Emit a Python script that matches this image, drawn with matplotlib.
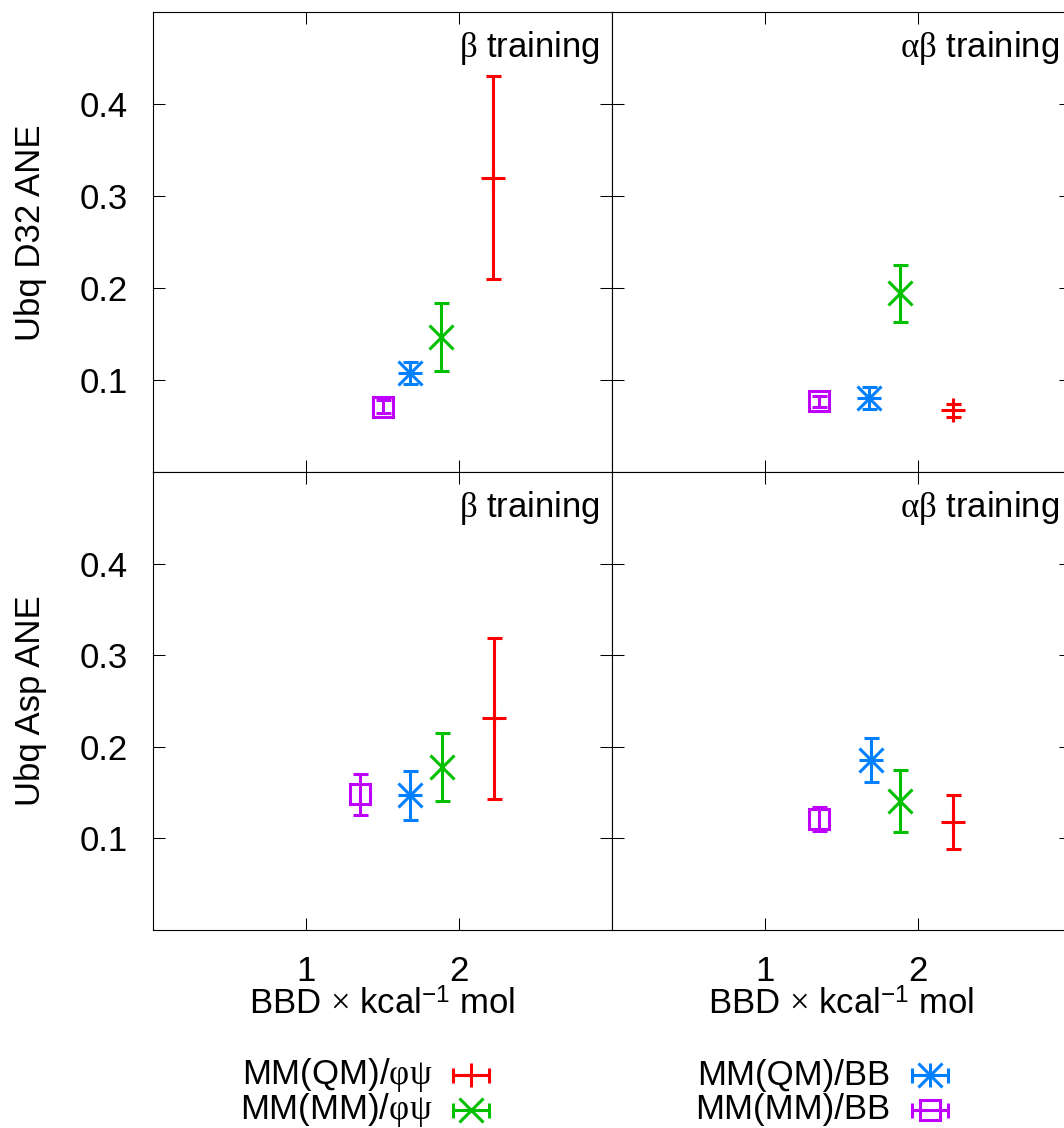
import matplotlib
matplotlib.use('Agg')
import matplotlib.pyplot as plt

plt.rcParams['font.family'] = ['Liberation Sans', 'DejaVu Sans']
plt.rcParams['mathtext.fontset'] = 'custom'
plt.rcParams['mathtext.rm'] = 'Liberation Serif'
plt.rcParams['mathtext.sf'] = 'Liberation Sans'
plt.rcParams['mathtext.it'] = 'Liberation Serif:italic'
plt.rcParams['mathtext.bf'] = 'Liberation Serif:bold'

# series: MM(QM)/phipsi, MM(MM)/phipsi, MM(QM)/BB, MM(MM)/BB
labels = [r'MM(QM)/$\mathrm{φψ}$', r'MM(MM)/$\mathrm{φψ}$', 'MM(QM)/BB', 'MM(MM)/BB']
colors = ['#ff0000', '#00c000', '#0080ff', '#c000ff']

# Ubq D32, beta training
d32_beta_x = [2.22, 1.88, 1.68, 1.50]
d32_beta_y = [0.320, 0.147, 0.108, 0.071]
d32_beta_err = [0.110, 0.037, 0.012, 0.007]

# Ubq D32, alpha-beta training
d32_ab_x = [2.23, 1.88, 1.68, 1.35]
d32_ab_y = [0.067, 0.194, 0.080, 0.077]
d32_ab_err = [0.007, 0.031, 0.012, 0.006]

# Ubq Asp, beta training
asp_beta_x = [2.23, 1.89, 1.68, 1.35]
asp_beta_y = [0.231, 0.178, 0.147, 0.148]
asp_beta_err = [0.088, 0.037, 0.027, 0.022]

# Ubq Asp, alpha-beta training
asp_ab_x = [2.23, 1.88, 1.69, 1.35]
asp_ab_y = [0.118, 0.141, 0.186, 0.121]
asp_ab_err = [0.029, 0.034, 0.024, 0.013]

yticks = [0.1, 0.2, 0.3, 0.4]
xticks = [1, 2]

FS = 25
LW = 2.2


def point(ax, x, y, i, xerr=None, yerr=None):
    kw = dict(color=colors[i], lw=LW, capsize=5.4, capthick=LW, ms=17, mew=LW, ls='none')
    if i == 3:
        ax.errorbar(x, y, xerr=xerr, yerr=yerr, fmt='s', mfc='none', mec=colors[i], **dict(kw, ms=15))
    else:
        ax.errorbar(x, y, xerr=xerr, yerr=yerr, fmt='x' if i == 1 else '+', **kw)
    if i == 2:
        ax.plot(x, y, 'x', color=colors[i], ms=17, mew=LW)


def panel(ax, xs, ys, errs, title):
    for i in range(4):
        point(ax, [xs[i]], [ys[i]], i, yerr=[errs[i]])
    ax.set_xlim(0, 3)
    ax.set_ylim(0, 0.5)
    ax.set_xticks(xticks)
    ax.set_yticks(yticks)
    ax.tick_params(direction='in', length=8.6, width=0.75, top=True, right=True,
                   labelsize=FS)
    ax.tick_params(axis='x', pad=18)
    ax.tick_params(axis='y', pad=18)
    for s in ax.spines.values():
        s.set_linewidth(0.8)
    ax.text(0.974, 0.902, title, transform=ax.transAxes, ha='right', va='baseline',
            fontsize=FS)


fig = plt.figure(figsize=(10.64, 11.28), dpi=100)

lax = fig.add_axes([0, 0, 1, 1])
lax.set_facecolor('none')
lax.set_xlim(0, 1064)
lax.set_ylim(1128, 0)
lax.axis('off')

W, H1, H2 = 0.4314, 0.4078, 0.4060
ax1 = fig.add_axes([0.1438, 0.5816, W, H1])
ax2 = fig.add_axes([0.5752, 0.5816, W, H1])
ax3 = fig.add_axes([0.1438, 0.1755, W, H2])
ax4 = fig.add_axes([0.5752, 0.1755, W, H2])

panel(ax1, d32_beta_x, d32_beta_y, d32_beta_err, r'$\mathrm{β}$ training')
panel(ax2, d32_ab_x, d32_ab_y, d32_ab_err, r'$\mathrm{αβ}$ training')
panel(ax3, asp_beta_x, asp_beta_y, asp_beta_err, r'$\mathrm{β}$ training')
panel(ax4, asp_ab_x, asp_ab_y, asp_ab_err, r'$\mathrm{αβ}$ training')

ax1.tick_params(labelbottom=False)
ax2.tick_params(labelbottom=False, labelleft=False)
ax4.tick_params(labelleft=False)

ax1.set_ylabel('Ubq D32 ANE', fontsize=FS)
ax1.yaxis.set_label_coords(-0.2316, 0.52)
ax3.set_ylabel('Ubq Asp ANE', fontsize=FS)
ax3.yaxis.set_label_coords(-0.2316, 0.5)

xlab = r'BBD $\mathrm{×}$ kcal$^{\mathsf{-1}}$ mol'
for ax in (ax3, ax4):
    ax.set_xlabel(xlab, fontsize=FS)
    ax.xaxis.set_label_coords(0.5, -0.128)

# key below the panels, two columns
key_text_right = [432, 432, 890, 890]
key_sample_x = [471, 471, 930, 930]
key_row_y = [1075, 1110, 1075, 1110]
for i in range(4):
    lax.text(key_text_right[i], key_row_y[i], labels[i], ha='right', va='center', fontsize=FS)
    point(lax, [key_sample_x[i]], [key_row_y[i]], i, xerr=[18])

fig.savefig('out.png', dpi=100)
